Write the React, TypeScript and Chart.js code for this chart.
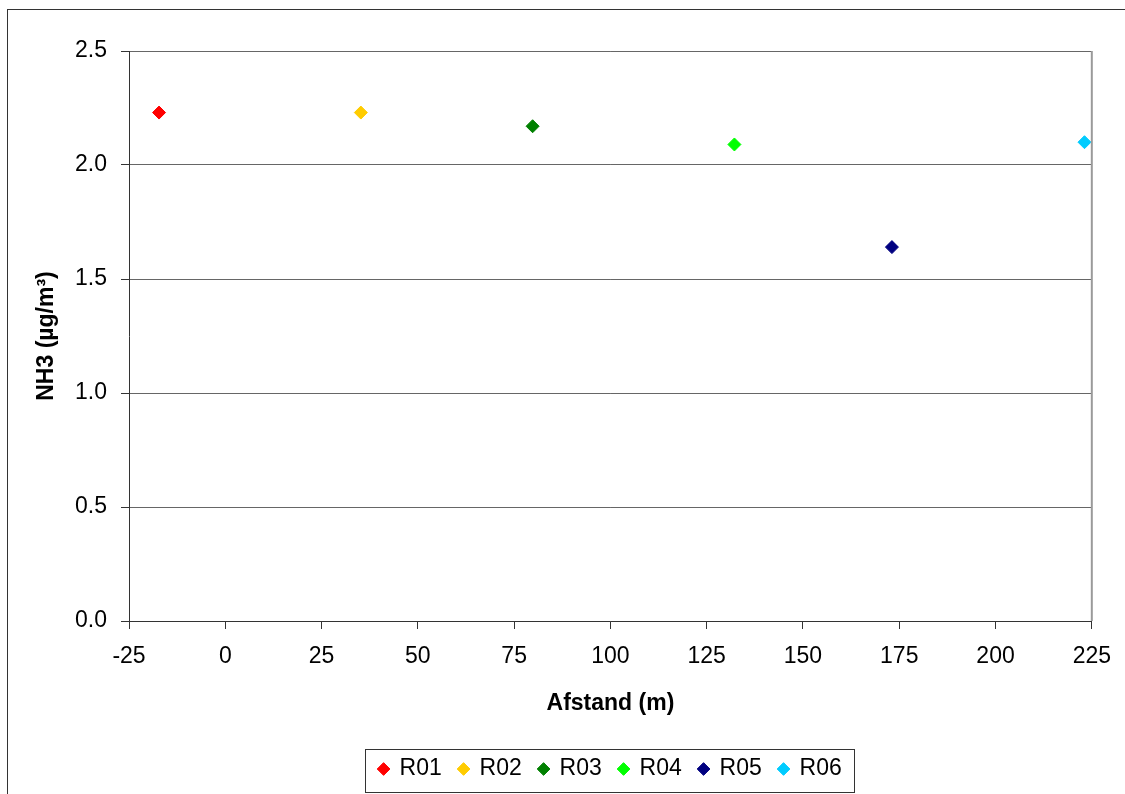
import React, { useEffect, useRef } from "react";
import { Chart, registerables } from "chart.js";

Chart.register(...registerables);

const seriesNames = ["R01", "R02", "R03", "R04", "R05", "R06"];
const distances = [-17.2, 35.2, 79.8, 132.2, 173.1, 223.1];
const nh3Values = [2.23, 2.23, 2.17, 2.09, 1.64, 2.1];
const seriesColors = ["#FF0000", "#FFCC00", "#008000", "#00FF00", "#000080", "#00CCFF"];
const xMin = -25;
const xMax = 225;
const xStep = 25;
const yMin = 0;
const yMax = 2.5;
const yStep = 0.5;

const FONT = "'Liberation Sans', Arial, sans-serif";

const framePlugin = {
  id: "frame",
  afterLayout(chart: any) {
    const lg = chart.legend;
    const a = chart.chartArea;
    if (!lg || !a) return;
    const target = (a.left + a.right) / 2;
    const current = (lg.left + lg.right) / 2;
    const d = target - current;
    lg.left += d;
    lg.right += d;
  },
  beforeDraw(chart: any) {
    const ctx = chart.ctx;
    ctx.save();
    ctx.fillStyle = "#ffffff";
    ctx.fillRect(0, 0, chart.width, chart.height);
    ctx.strokeStyle = "#333333";
    ctx.lineWidth = 1;
    ctx.strokeRect(7.5, 9.5, 3000, 3000);
    ctx.restore();
  },
  afterDatasetsDraw(chart: any) {
    const ctx = chart.ctx;
    const a = chart.chartArea;
    ctx.save();
    ctx.strokeStyle = "#9a9a9a";
    ctx.lineWidth = 2;
    ctx.beginPath();
    ctx.moveTo(a.right, a.top);
    ctx.lineTo(a.right, a.bottom);
    ctx.stroke();
    ctx.restore();
  },
  afterDraw(chart: any) {
    const lg = chart.legend;
    if (!lg || !lg.legendHitBoxes || !lg.legendHitBoxes.length) return;
    const hb = lg.legendHitBoxes;
    const first = hb[0];
    const last = hb[hb.length - 1];
    const x0 = first.left - 14.5;
    const x1 = last.left + last.width + 12;
    const y0 = first.top - 8.5;
    const y1 = first.top + first.height + 11.5;
    const ctx = chart.ctx;
    ctx.save();
    ctx.strokeStyle = "#333333";
    ctx.lineWidth = 1;
    ctx.strokeRect(Math.round(x0) + 0.5, Math.round(y0) + 0.5, Math.round(x1 - x0), Math.round(y1 - y0));
    ctx.restore();
  },
};

export default function App() {
  const ref = useRef<HTMLCanvasElement | null>(null);

  useEffect(() => {
    if (!ref.current) return;
    const datasets = seriesNames.map((name, i) => ({
      label: name,
      data: [{ x: distances[i], y: nh3Values[i] }],
      pointStyle: "rectRot",
      pointRadius: 6.5,
      pointHoverRadius: 6.5,
      backgroundColor: seriesColors[i],
      borderColor: seriesColors[i],
      borderWidth: 1,
      showLine: false,
    }));

    const chart = new Chart(ref.current, {
      type: "scatter",
      data: { datasets },
      plugins: [framePlugin],
      options: {
        responsive: false,
        animation: false,
        devicePixelRatio: 1,
        layout: { padding: { left: 0, top: 51, right: 32, bottom: 3.5 } },
        plugins: {
          tooltip: { enabled: false },
          legend: {
            display: true,
            position: "bottom",
            labels: {
              usePointStyle: true,
              boxWidth: 9,
              boxHeight: 9,
              padding: 17.3,
              color: "#000000",
              font: { family: FONT, size: 23 },
            },
          },
        },
        scales: {
          x: {
            type: "linear",
            min: xMin,
            max: xMax,
            afterFit(scale: any) {
              scale.height = 119.2;
            },
            ticks: {
              stepSize: xStep,
              color: "#000000",
              padding: 14,
              font: { family: FONT, size: 23 },
              maxRotation: 0,
            },
            grid: {
              drawOnChartArea: false,
              drawTicks: true,
              tickLength: 8,
              tickColor: "#333333",
              color: "#333333",
            },
            border: { display: true, color: "#333333", width: 1 },
            title: {
              display: true,
              text: "Afstand (m)",
              color: "#000000",
              font: { family: FONT, size: 23, weight: "bold" },
              padding: { top: 0, bottom: 22.4 },
            },
          },
          y: {
            type: "linear",
            min: yMin,
            max: yMax,
            afterFit(scale: any) {
              scale.width = 129;
            },
            ticks: {
              stepSize: yStep,
              color: "#000000",
              padding: 14,
              font: { family: FONT, size: 23 },
              callback: (v: any) => Number(v).toFixed(1),
            },
            grid: {
              color: "#666666",
              lineWidth: 1,
              drawTicks: true,
              tickLength: 8,
              tickColor: "#333333",
            },
            border: { display: true, color: "#333333", width: 1 },
            title: {
              display: true,
              text: "NH3 (µg/m³)",
              color: "#000000",
              font: { family: FONT, size: 23, weight: "bold" },
              padding: { top: 33, bottom: 0 },
            },
          },
        },
      },
    } as any);

    return () => chart.destroy();
  }, []);

  return (
    <div style={{ position: "absolute", left: 0, top: 0, width: 1125, height: 794, background: "#fff" }}>
      <canvas ref={ref} width={1125} height={794} style={{ display: "block", width: 1125, height: 794 }} />
    </div>
  );
}
